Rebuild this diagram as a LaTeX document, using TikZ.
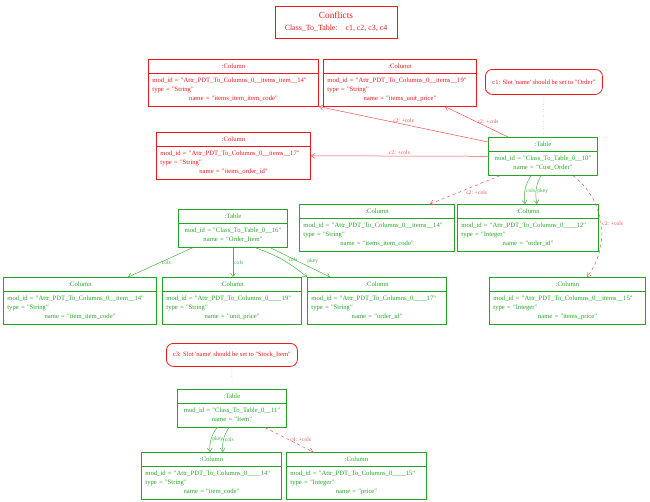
\documentclass[tikz,border=0pt]{standalone}
\usepackage{fontspec}
\setmainfont{Liberation Serif}
\usepackage{tikz}
\usetikzlibrary{arrows,arrows.meta,shapes,calc}

\definecolor{cred}{RGB}{235,25,25}
\definecolor{cgrn}{RGB}{35,165,35}
\newcommand{\qt}{\textquotedbl}
\newcommand{\sq}{\textquotesingle}
\newcommand{\hdr}[1]{\strut\hspace*{\fill}#1\hspace*{\fill}\strut}
\newcommand{\colattrs}[3]{\strut mod\_id~=~\qt#1\qt\\ type~=~\qt#2\qt\\ \hspace*{\fill}name~=~\qt#3\qt\hspace*{\fill}\strut}
\newcommand{\tblattrs}[2]{\strut mod\_id~=~\qt#1\qt\\ name~=~\qt#2\qt\strut}

\tikzset{
  >={Straight Barb[length=3.5pt,width=5pt]},
  colbox/.style={rectangle split, rectangle split parts=2, draw, line width=0.8pt,
    text width=#1, inner xsep=4pt, inner ysep=2.3pt, anchor=north west,
    font=\fontsize{6.65}{9}\selectfont, align=left},
  tblbox/.style={colbox=#1, inner xsep=2pt, align=center},
  redbox/.style={draw=cred, text=cred},
  grnbox/.style={draw=cgrn, text=cgrn},
  note/.style={draw=cred, text=cred, line width=0.8pt, rounded corners=7pt,
    anchor=north west, font=\fontsize{6.5}{8}\selectfont, inner sep=2pt},
  elabel/.style={font=\fontsize{5.6}{6.5}\selectfont, inner sep=1pt},
  redge/.style={->, cred!75, line width=0.5pt},
  gedge/.style={->, cgrn!85, line width=0.5pt},
}

\begin{document}
\begin{tikzpicture}[x=1pt,y=-1pt]
\useasboundingbox (0,0) rectangle (650,501);

\node (conf) at (336,22) [draw=cred, text=cred, line width=0.8pt, minimum width=122pt,
  minimum height=32pt, align=center, inner sep=1pt]
  {{\fontsize{9.3}{11}\selectfont Conflicts}\\
   {\fontsize{7.9}{9}\selectfont Class\_To\_Table:\quad c1, c2, c3, c4}};

% Cust_Order
\node (colA) at (148,59) [colbox=162.2pt, redbox] {\hdr{:Column}\nodepart{two}\colattrs{Attr\_PDT\_To\_Columns\_0\_\_items\_item\_\_14}{String}{items\_item\_item\_code}};
\node (colB) at (323,59) [colbox=145.2pt, redbox] {\hdr{:Column}\nodepart{two}\colattrs{Attr\_PDT\_To\_Columns\_0\_\_items\_\_19}{String}{items\_unit\_price}};
\node (n1) at (485,69) [note, minimum width=117pt, minimum height=25pt] {c1: Slot \sq name\sq\ should be set to \qt Order\qt};
\node (colC) at (156,132) [colbox=146.2pt, redbox] {\hdr{:Column}\nodepart{two}\colattrs{Attr\_PDT\_To\_Columns\_0\_\_items\_\_17}{String}{items\_order\_id}};
\node (tblCust) at (488,137) [tblbox=105.2pt, grnbox] {\hdr{:Table}\nodepart{two}\tblattrs{Class\_To\_Table\_0\_\_10}{Cust\_Order}};
\node (colD) at (299,204) [colbox=147.2pt, grnbox] {\hdr{:Column}\nodepart{two}\colattrs{Attr\_PDT\_To\_Columns\_0\_\_items\_\_14}{String}{items\_item\_code}};
\node (colE) at (457,204) [colbox=133.2pt, grnbox] {\hdr{:Column}\nodepart{two}\colattrs{Attr\_PDT\_To\_Columns\_0\_\_\_\_12}{Integer}{order\_id}};
\node (colI) at (489,277) [colbox=148.2pt, grnbox] {\hdr{:Column}\nodepart{two}\colattrs{Attr\_PDT\_To\_Columns\_0\_\_items\_\_15}{Integer}{items\_price}};

% Order_Item
\node (tblOI) at (178,209) [tblbox=105.2pt, grnbox] {\hdr{:Table}\nodepart{two}\tblattrs{Class\_To\_Table\_0\_\_16}{Order\_Item}};
\node (colF) at (3,277) [colbox=145.2pt, grnbox] {\hdr{:Column}\nodepart{two}\colattrs{Attr\_PDT\_To\_Columns\_0\_\_item\_\_14}{String}{item\_item\_code}};
\node (colG) at (162,277) [colbox=131.2pt, grnbox] {\hdr{:Column}\nodepart{two}\colattrs{Attr\_PDT\_To\_Columns\_0\_\_\_\_19}{String}{unit\_price}};
\node (colH) at (307,277) [colbox=131.2pt, grnbox] {\hdr{:Column}\nodepart{two}\colattrs{Attr\_PDT\_To\_Columns\_0\_\_\_\_17}{String}{order\_id}};

% Item
\node (n3) at (166,343) [note, minimum width=131pt, minimum height=23pt] {c3: Slot \sq name\sq\ should be set to \qt Stock\_Item\qt};
\node (tblItem) at (177,389) [tblbox=105.2pt, grnbox] {\hdr{:Table}\nodepart{two}\tblattrs{Class\_To\_Table\_0\_\_11}{Item}};
\node (colJ) at (141,452) [colbox=132.2pt, grnbox] {\hdr{:Column}\nodepart{two}\colattrs{Attr\_PDT\_To\_Columns\_0\_\_\_\_14}{String}{item\_code}};
\node (colK) at (286,452) [colbox=132.2pt, grnbox] {\hdr{:Column}\nodepart{two}\colattrs{Attr\_PDT\_To\_Columns\_0\_\_\_\_15}{Integer}{price}};

% notes
\draw[cred!60, dotted] (n1.south) -- (tblCust.north);
\draw[cred!60, dotted] (n3.south) -- (tblItem.north);

% Cust_Order cols
\draw[redge] ([yshift=-5pt]tblCust.north west) -- node[elabel, midway, above] {c2: +cols} (colA.south east);
\draw[redge] ([xshift=20pt]tblCust.north west) -- node[elabel, midway, right] {c2: +cols} ([xshift=-32pt]colB.south east);
\draw[redge] (tblCust.west) -- node[elabel, midway, above] {c2: +cols} (colC.east);
\draw[redge, dashed] ([xshift=12pt]tblCust.south west) -- node[elabel, midway, below right] {c2: +cols} ([xshift=-25pt]colD.north east);
\draw[gedge] ([xshift=43pt]tblCust.south west) to[bend right=20] node[elabel, pos=0.55, right] {cols} ([xshift=68pt]colE.north west);
\draw[gedge] ([xshift=53pt]tblCust.south west) to[bend right=20] node[elabel, pos=0.55, right] {pkey} ([xshift=80pt]colE.north west);
\draw[redge, dashed] ([xshift=-25pt]tblCust.south east) to[bend left=45] node[elabel, midway, right] {c2: +cols} ([xshift=-59pt]colI.north east);

% Order_Item cols
\draw[gedge] ([xshift=15pt]tblOI.south west) -- node[elabel, midway, right] {cols} ([xshift=-29pt]colF.north east);
\draw[gedge] (tblOI.south) -- node[elabel, midway, right] {cols} (tblOI.south |- colG.north);
\draw[gedge] ([xshift=77pt]tblOI.south west) to[bend left=10] node[elabel, pos=0.6, above right] {cols} (colH.north west);
\draw[gedge] ([xshift=92pt]tblOI.south west) -- node[elabel, pos=0.6, above right] {pkey} ([xshift=23pt]colH.north west);

% Item cols
\draw[gedge] ([xshift=40pt]tblItem.south west) to[bend right=20] node[elabel, midway, right] {pkey} ([xshift=69pt]colJ.north west);
\draw[gedge] ([xshift=52pt]tblItem.south west) to[bend right=20] node[elabel, midway, right] {cols} ([xshift=82pt]colJ.north west);
\draw[redge, dashed] ([xshift=88pt]tblItem.south west) -- node[elabel, midway, right] {c4: +cols} ([xshift=27pt]colK.north west);
\end{tikzpicture}
\end{document}
